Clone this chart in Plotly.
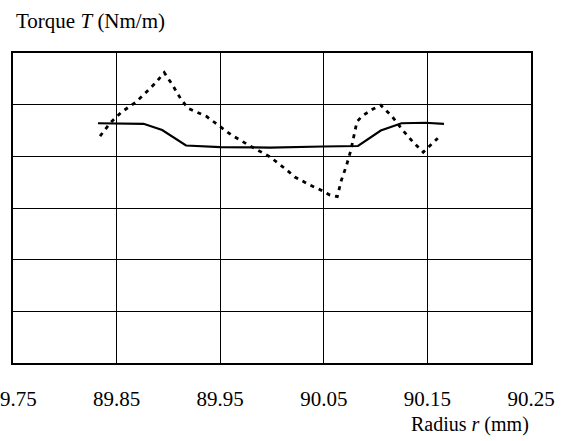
import plotly.graph_objects as go

# Radius r (mm) and torque T (grid units; no y labels in original)
r_solid = [89.832, 89.876, 89.894, 89.917, 89.950, 89.998, 90.049, 90.083, 90.105, 90.125, 90.148, 90.166]
t_solid = [4.64, 4.63, 4.51, 4.21, 4.18, 4.17, 4.19, 4.20, 4.50, 4.64, 4.65, 4.63]

r_dotted = [89.834, 89.844, 89.855, 89.868, 89.876, 89.887, 89.896, 89.904, 89.912, 89.919,
            89.937, 89.952, 89.961, 89.979, 89.998, 90.014, 90.022, 90.037, 90.045, 90.056,
            90.063, 90.067, 90.072, 90.076, 90.079, 90.082, 90.087, 90.097, 90.105, 90.116,
            90.126, 90.136, 90.146, 90.160]
t_dotted = [4.39, 4.65, 4.86, 5.04, 5.19, 5.41, 5.62, 5.38, 5.11, 4.93,
            4.77, 4.54, 4.41, 4.20, 3.99, 3.74, 3.60, 3.44, 3.37, 3.25,
            3.22, 3.54, 3.83, 4.11, 4.41, 4.67, 4.78, 4.91, 4.99, 4.77,
            4.51, 4.28, 4.08, 4.35]

x_ticks = [89.75, 89.85, 89.95, 90.05, 90.15, 90.25]
x_tick_labels = ["89.75", "89.85", "89.95", "90.05", "90.15", "90.25"]
y_ticks = [0, 1, 2, 3, 4, 5, 6]

FONT = "Liberation Serif"

fig = go.Figure()
fig.add_trace(go.Scatter(x=r_dotted, y=t_dotted, mode="lines",
                         line=dict(color="black", width=2.8, dash="4px,5px"),
                         showlegend=False, hoverinfo="skip"))
fig.add_trace(go.Scatter(x=r_solid, y=t_solid, mode="lines",
                         line=dict(color="black", width=2.2),
                         showlegend=False, hoverinfo="skip"))

fig.update_layout(
    width=566, height=441,
    margin=dict(l=13, r=35, t=53, b=78, autoexpand=False),
    paper_bgcolor="white", plot_bgcolor="white",
    font=dict(family=FONT, color="black", size=21),
    xaxis=dict(range=[89.75, 90.25], tickvals=x_ticks, ticktext=x_tick_labels,
               showgrid=True, gridcolor="black", gridwidth=1.2,
               showline=True, linecolor="black", linewidth=1.5, mirror=True,
               ticks="", ticklabelstandoff=16, zeroline=False, automargin=False,
               ticklabeloverflow="allow",
               tickfont=dict(size=21, family=FONT), fixedrange=True),
    yaxis=dict(range=[0, 6], tickvals=y_ticks, showticklabels=False,
               showgrid=True, gridcolor="black", gridwidth=1.2,
               showline=True, linecolor="black", linewidth=1.5, mirror=True,
               ticks="", zeroline=False, automargin=False, fixedrange=True),
    annotations=[
        dict(text="Torque <i>T</i> (Nm/m)", xref="paper", yref="paper",
             x=0, y=1.103, xanchor="left", yanchor="middle", xshift=1,
             showarrow=False, font=dict(size=21, family=FONT)),
        dict(text="Radius <i>r</i> (mm)", xref="paper", yref="paper",
             x=1, y=-0.197, xanchor="right", yanchor="middle",
             showarrow=False, font=dict(size=20, family=FONT)),
    ],
)

fig.write_html("out.html", config={"displayModeBar": False},
               post_script="document.body.style.margin='0';document.body.style.padding='0';")
